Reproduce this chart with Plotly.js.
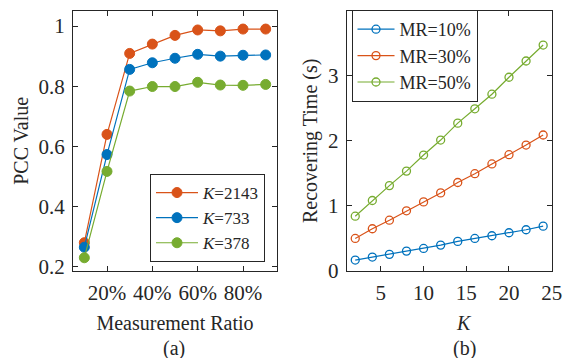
<!DOCTYPE html>
<html>
<head>
<meta charset="utf-8">
<script src="https://cdn.plot.ly/plotly-3.0.1.min.js"></script>
<style>html,body{margin:0;padding:0;background:#fff;}#chart{width:576px;height:358px;}</style>
</head>
<body>
<div id="chart"></div>
<script>
// Panel (a): PCC vs measurement ratio
const measurementRatio = [0.1, 0.2, 0.3, 0.4, 0.5, 0.6, 0.7, 0.8, 0.9];
const pccK2143 = [0.28, 0.64, 0.909, 0.94, 0.969, 0.987, 0.984, 0.99, 0.99];
const pccK733  = [0.265, 0.573, 0.856, 0.878, 0.893, 0.906, 0.900, 0.903, 0.904];
const pccK378  = [0.23, 0.517, 0.784, 0.799, 0.799, 0.813, 0.804, 0.803, 0.806];
const xTickVals = [0.2, 0.4, 0.6, 0.8];
const xTickText = ['20%', '40%', '60%', '80%'];
const yTickValsA = [0.2, 0.4, 0.6, 0.8, 1];
const yTickTextA = ['0.2', '0.4', '0.6', '0.8', '1'];

// Panel (b): recovering time vs K
const kValues = [2, 4, 6, 8, 10, 12, 14, 16, 18, 20, 22, 24];
const timeMR10 = [0.168, 0.214, 0.256, 0.306, 0.347, 0.398, 0.455, 0.500, 0.542, 0.588, 0.634, 0.689];
const timeMR30 = [0.500, 0.649, 0.781, 0.925, 1.062, 1.200, 1.360, 1.495, 1.645, 1.787, 1.935, 2.090];
const timeMR50 = [0.842, 1.083, 1.312, 1.535, 1.782, 2.012, 2.272, 2.492, 2.717, 2.977, 3.227, 3.472];
const xTickValsB = [5, 10, 15, 20, 25];
const yTickValsB = [0, 1, 2, 3, 4];

const BLUE = '#0072BD', ORANGE = '#D95319', GREEN = '#77AC30';
const AX = '#262626';
const FONT = "'Liberation Serif', 'Times New Roman', serif";

function filled(x, y, color, name, grp) {
  return {x: x, y: y, name: name, mode: 'lines+markers', type: 'scatter',
    xaxis: 'x', yaxis: 'y', legend: 'legend', legendgroup: grp,
    line: {color: color, width: 1.2},
    marker: {symbol: 'circle', size: 10, color: color, line: {color: color, width: 1}}};
}
function open(x, y, color, name, grp) {
  return {x: x, y: y, name: name, mode: 'lines+markers', type: 'scatter',
    xaxis: 'x2', yaxis: 'y2', legend: 'legend2', legendgroup: grp,
    line: {color: color, width: 1.2},
    marker: {symbol: 'circle-open', size: 8, color: color, line: {color: color, width: 1.3}}};
}

const traces = [
  filled(measurementRatio, pccK2143, ORANGE, '<i>K</i>=2143', 'a1'),
  filled(measurementRatio, pccK733, BLUE, '<i>K</i>=733', 'a2'),
  filled(measurementRatio, pccK378, GREEN, '<i>K</i>=378', 'a3'),
  open(kValues, timeMR10, BLUE, 'MR=10%', 'b1'),
  open(kValues, timeMR30, ORANGE, 'MR=30%', 'b2'),
  open(kValues, timeMR50, GREEN, 'MR=50%', 'b3')
];

function ax(extra) {
  return Object.assign({
    showline: true, linecolor: AX, linewidth: 1, mirror: 'allticks',
    ticks: 'inside', ticklen: 5, tickcolor: AX, tickwidth: 1,
    showgrid: false, zeroline: false, ticklabelstandoff: 3,
    tickfont: {family: FONT, size: 21, color: AX}
  }, extra);
}
const titleFont = {family: FONT, size: 20, color: AX};

const layout = {
  width: 576, height: 358,
  margin: {l: 0, r: 0, t: 0, b: 0},
  paper_bgcolor: '#fff', plot_bgcolor: '#fff',
  font: {family: FONT, size: 19, color: AX},
  showlegend: true,
  xaxis: ax({domain: [73/576, 277/576], anchor: 'y', range: [0.05, 0.95],
    tickvals: xTickVals, ticktext: xTickText,
    title: {text: 'Measurement Ratio', font: titleFont, standoff: 11}}),
  yaxis: ax({domain: [1 - 271/358, 1 - 10.7/358], anchor: 'x', range: [0.186, 1.051],
    tickvals: yTickValsA, ticktext: yTickTextA,
    title: {text: 'PCC Value', font: titleFont, standoff: 4}}),
  xaxis2: ax({domain: [346.7/576, 551.7/576], anchor: 'y2', range: [1, 25],
    tickvals: xTickValsB}),
  yaxis2: ax({domain: [1 - 271/358, 1 - 10.7/358], anchor: 'x2', range: [0, 4],
    tickvals: yTickValsB,
    title: {text: 'Recovering Time (s)', font: titleFont, standoff: 4}}),
  legend: {
    x: 150/576, y: 1 - 174/358, xanchor: 'left', yanchor: 'top',
    bgcolor: '#fff', bordercolor: AX, borderwidth: 1, itemwidth: 42,
    font: {family: FONT, size: 17, color: AX}, tracegroupgap: 0
  },
  legend2: {
    x: 351.5/576, y: 1 - 10/358, xanchor: 'left', yanchor: 'top',
    bgcolor: '#fff', bordercolor: AX, borderwidth: 1, itemwidth: 37,
    font: {family: FONT, size: 18, color: AX}, tracegroupgap: 0
  },
  annotations: [
    {text: '(a)', xref: 'paper', yref: 'paper', x: 174/576, y: 1 - 348/358,
     xanchor: 'center', yanchor: 'middle', showarrow: false, font: titleFont},
    {text: '<i>K</i>', xref: 'paper', yref: 'paper', x: 464/576, y: 1 - 323/358,
     xanchor: 'center', yanchor: 'middle', showarrow: false, font: titleFont},
    {text: '(b)', xref: 'paper', yref: 'paper', x: 464/576, y: 1 - 348/358,
     xanchor: 'center', yanchor: 'middle', showarrow: false, font: titleFont}
  ]
};

Plotly.newPlot('chart', traces, layout, {displayModeBar: false, staticPlot: true});
</script>
</body>
</html>
